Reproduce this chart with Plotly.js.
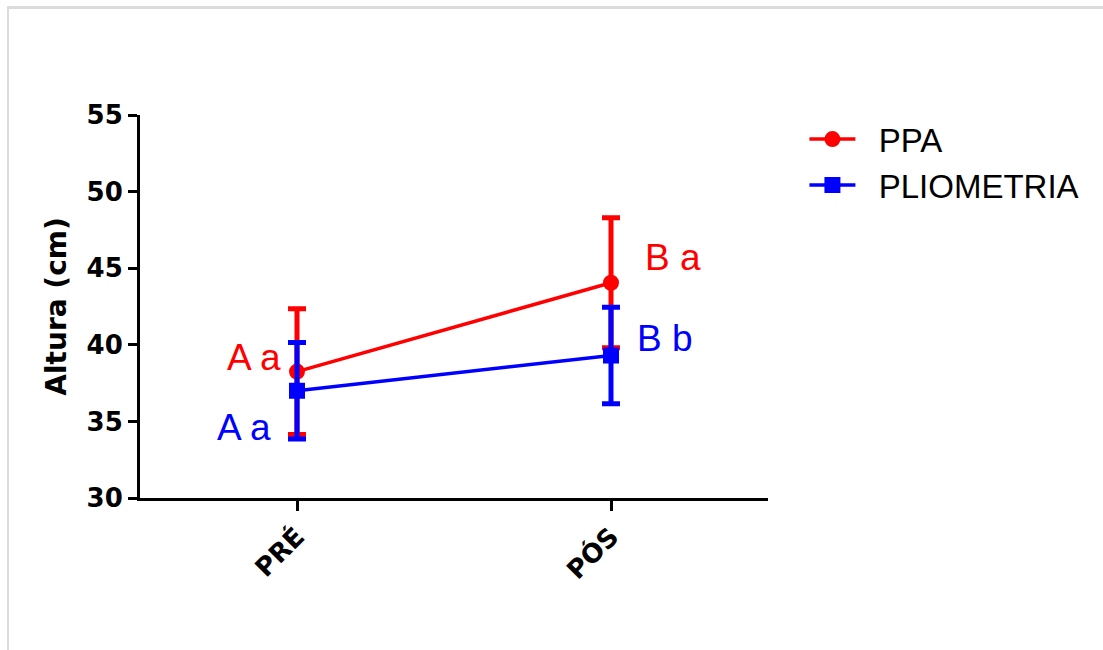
<!DOCTYPE html>
<html>
<head>
<meta charset="utf-8">
<script src="https://cdn.plot.ly/plotly-3.0.1.min.js"></script>
<style>
  html, body { margin: 0; padding: 0; background: #fff; }
  #wrap { position: relative; width: 1103px; height: 650px; }
  #chart { width: 1103px; height: 650px; }
  #frame { position: absolute; left: 7px; top: 6px; right: 0; bottom: 0;
           border-top: 3px solid #dcdcdc; border-left: 2px solid #dcdcdc;
           pointer-events: none; }
</style>
</head>
<body>
<div id="wrap">
  <div id="chart"></div>
  <div id="frame"></div>
</div>
<script>
// Data
var categories = ["PRÉ", "PÓS"];
var seriesNames = ["PPA", "PLIOMETRIA"];
var ppaMean = [38.25, 44.05];
var ppaSD = [4.1, 4.25];
var plioMean = [37.0, 39.3];
var plioSD = [3.15, 3.15];

// Letter labels (statistics) placed next to the points
var labelTexts = ["A a", "A a", "B a", "B b"];
var labelCats = ["PRÉ", "PRÉ", "PÓS", "PÓS"];
var labelY = [39.15, 34.6, 45.7, 40.4];
var labelColors = ["#ff0000", "#0000ff", "#ff0000", "#0000ff"];
var labelShift = [-43, -53, 62, 54];

var pad = "\u00a0\u00a0";

var traces = [
  {
    x: categories, y: ppaMean, name: pad + seriesNames[0], type: "scatter", mode: "lines+markers",
    line: { color: "#ff0000", width: 3.5 },
    marker: { color: "#ff0000", size: 16, symbol: "circle" },
    error_y: { type: "data", array: ppaSD, visible: true, color: "#ff0000", thickness: 5, width: 9 }
  },
  {
    x: categories, y: plioMean, name: pad + seriesNames[1], type: "scatter", mode: "lines+markers",
    line: { color: "#0000ff", width: 3.5 },
    marker: { color: "#0000ff", size: 16, symbol: "square" },
    error_y: { type: "data", array: plioSD, visible: true, color: "#0000ff", thickness: 5, width: 9 }
  }
];

var annotations = labelTexts.map(function (t, i) {
  return {
    x: labelCats[i], y: labelY[i], xref: "x", yref: "y", text: t,
    showarrow: false, xshift: labelShift[i],
    xanchor: "center", yanchor: "middle",
    font: { family: "Liberation Sans, Arial, sans-serif", size: 37, color: labelColors[i] }
  };
});

var layout = {
  width: 1103, height: 650,
  margin: { l: 140, r: 335, t: 115, b: 152 },
  paper_bgcolor: "#fff", plot_bgcolor: "#fff",
  showlegend: true,
  legend: {
    x: 1.058, xanchor: "left", y: 1.01, yanchor: "top",
    font: { family: "Liberation Sans, Arial, sans-serif", size: 33, color: "#000" },
    itemwidth: 46, tracegroupgap: 0, bgcolor: "rgba(0,0,0,0)"
  },
  xaxis: {
    type: "category", range: [-0.5, 1.5],
    showline: true, linecolor: "#000", linewidth: 3,
    ticks: "outside", ticklen: 10, tickwidth: 3, tickcolor: "#000",
    tickangle: -45, showgrid: false, zeroline: false,
    tickfont: { family: "DejaVu Sans", size: 26, color: "#000", weight: "bold" }
  },
  yaxis: {
    range: [30, 55], tickvals: [30, 35, 40, 45, 50, 55],
    showline: true, linecolor: "#000", linewidth: 3,
    ticks: "outside", ticklen: 9, tickwidth: 3, tickcolor: "#000",
    showgrid: false, zeroline: false,
    tickfont: { family: "DejaVu Sans", size: 26, color: "#000", weight: "bold" },
    title: { text: "Altura (cm)", standoff: 12,
             font: { family: "DejaVu Sans", size: 28, color: "#000", weight: "bold" } }
  },
  annotations: annotations
};

Plotly.newPlot("chart", traces, layout, { displayModeBar: false, staticPlot: true });
</script>
</body>
</html>
